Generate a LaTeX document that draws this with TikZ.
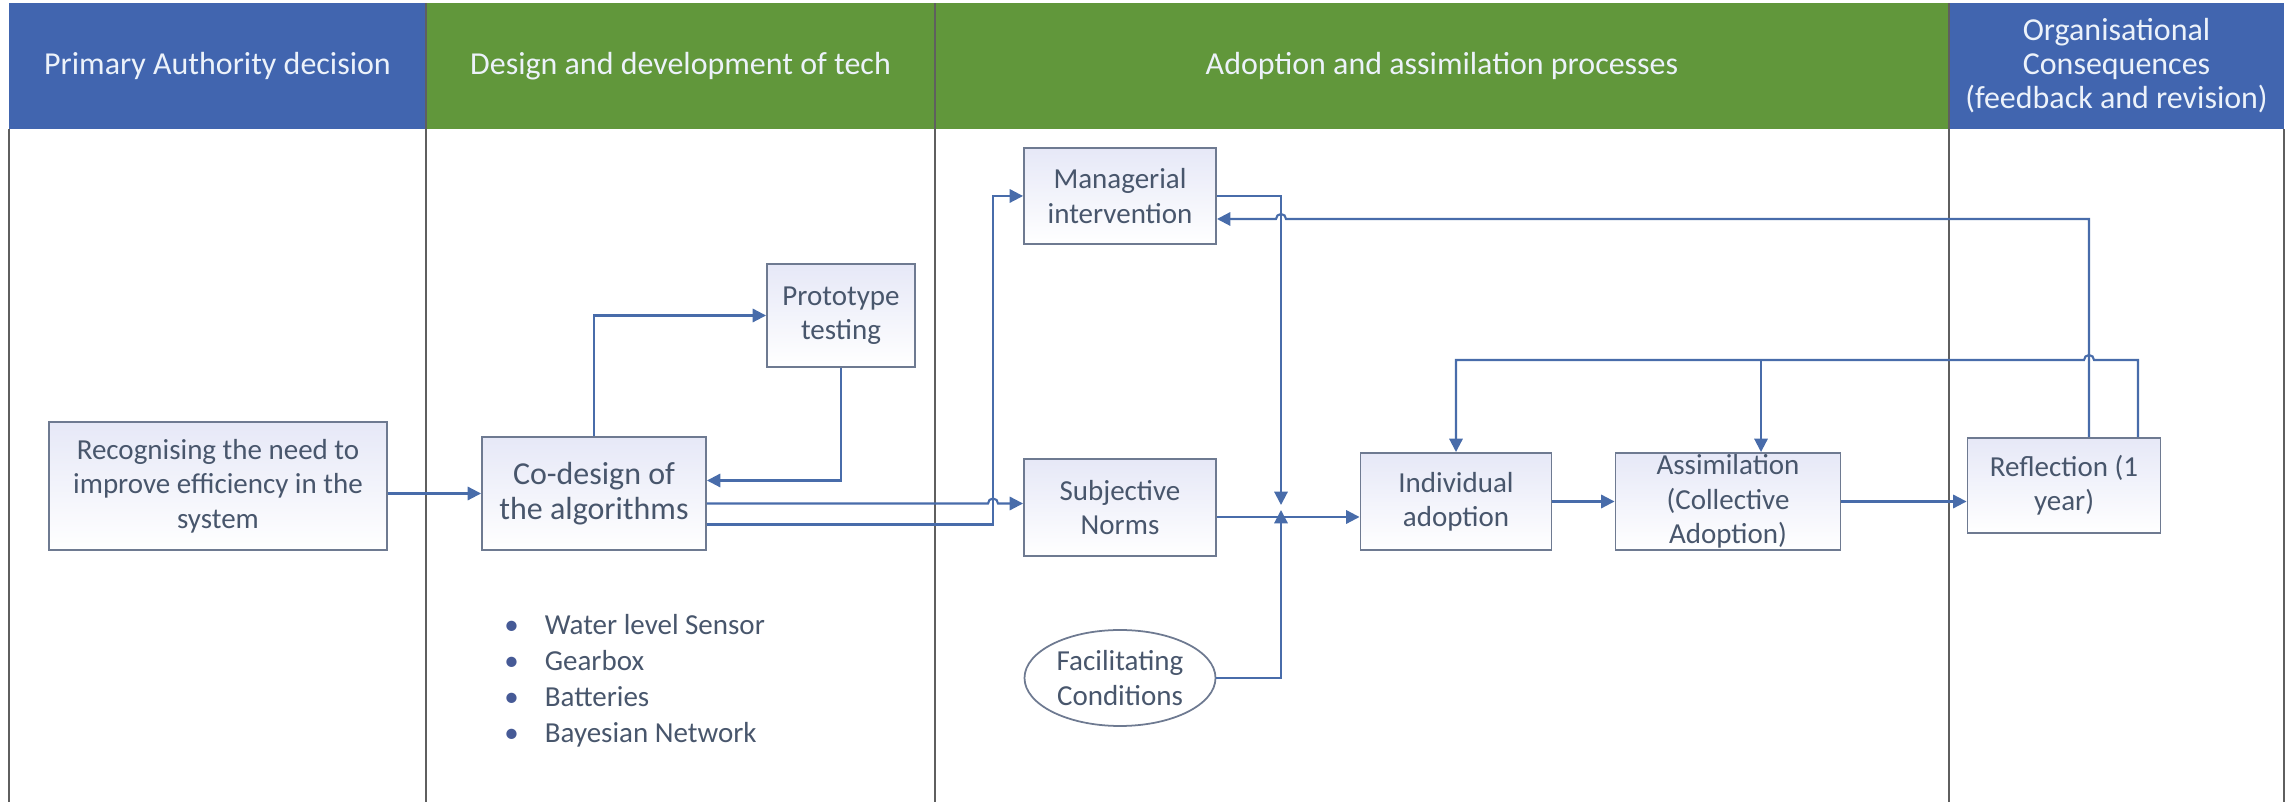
\documentclass[tikz,border=0pt]{standalone}
\usepackage{fontspec}
\setmainfont{Carlito}
\usetikzlibrary{arrows.meta, calc, positioning, shapes.geometric}
\definecolor{hdrBlue}{RGB}{65,101,175}
\definecolor{hdrGreen}{RGB}{97,151,59}
\definecolor{hdrText}{RGB}{236,242,250}
\definecolor{laneLine}{RGB}{95,95,95}
\definecolor{boxLine}{RGB}{110,122,145}
\definecolor{boxTint}{RGB}{230,232,247}
\definecolor{flowC}{RGB}{72,108,170}
\definecolor{txtC}{RGB}{72,86,108}
\definecolor{dotC}{RGB}{70,90,150}
\tikzset{
    procB/.style 2 args={
        draw=boxLine, line width=0.55pt, rectangle, inner sep=0pt,
        shading=axis, shading angle=135, top color=boxTint, bottom color=white,
        minimum width=#1, minimum height=#2, align=center
    },
    condE/.style 2 args={
        draw=boxLine, line width=0.5pt, ellipse, inner sep=0pt, fill=white,
        minimum width=#1, minimum height=#2, align=center
    },
    headB/.style={
        fill=#1, draw=none, text=hdrText, inner sep=0pt,
        minimum height=12.6mm, align=center
    },
    laneL/.style={draw=laneLine, line width=0.5pt},
    flowA/.style={
        draw=flowC, line width=0.6pt, -{Triangle[length=3.8pt, width=3.8pt]}
    }
}
\begin{document}
\begin{tikzpicture}[x=0.1mm, y=0.1mm]
    \def \nf {\fontsize{8.25}{9.8}\selectfont}
    \def \hf {\fontsize{9.1}{9.7}\selectfont}
    \tikzstyle{every node}=[text=txtC, font=\nf];
    \useasboundingbox (0,0) rectangle (2290,802);
    % swimlane headers
    \node[headB=hdrBlue, minimum width=41.7mm, font=\hf] (hA) at (217.5,736) {Primary Authority decision};
    \node[headB=hdrGreen, minimum width=50.9mm, font=\hf] (hB) at (680.5,736) {Design and development of tech};
    \node[headB=hdrGreen, minimum width=101.4mm, font=\hf] (hC) at (1442,736) {Adoption and assimilation processes};
    \node[headB=hdrBlue, minimum width=33.5mm, font=\hf] (hD) at (2116.5,736) {Organisational\\Consequences\\(feedback and revision)};
    % lane borders
    \foreach \x in {9,2284}{
        \draw[laneL] (\x,0) -- (\x,673);}
    \foreach \x in {426,935,1949}{
        \draw[laneL] (\x,0) -- (\x,799);}

    \node[procB={33.8mm}{12.8mm}] (recog) at (218,316) {Recognising the need to\\improve efficiency in the\\system};
    \node[procB={22.4mm}{11.3mm}, font=\fontsize{9.1}{10}\selectfont] (codesign) at (594,308.5) {Co-design of\\the algorithms};
    \node[procB={14.8mm}{10.3mm}] (proto) at (841,486.5) {Prototype\\testing};
    \node[procB={19.2mm}{9.6mm}] (manag) at (1120,606) {Managerial\\intervention};
    \node[procB={19.2mm}{9.7mm}] (subj) at (1120,294.5) {Subjective\\Norms};
    \node[condE={19.1mm}{9.6mm}] (facil) at (1120,124) {Facilitating\\Conditions};
    \node[procB={19.1mm}{9.7mm}] (indiv) at (1456,300.5) {Individual\\adoption};
    \node[procB={22.5mm}{9.7mm}] (assim) at (1728,300.5) {Assimilation\\(Collective\\Adoption)};
    \node[procB={19.3mm}{9.5mm}] (refl) at (2064,316.5) {Reflection (1\\year)};
    \node[anchor=west, align=left, font=\fontsize{8.25}{10.2}\selectfont] (parts) at (492,121)
        {\textcolor{dotC}{\textbullet}\hspace{2.6mm}Water level Sensor\\
         \textcolor{dotC}{\textbullet}\hspace{2.6mm}Gearbox\\
         \textcolor{dotC}{\textbullet}\hspace{2.6mm}Batteries\\
         \textcolor{dotC}{\textbullet}\hspace{2.6mm}Bayesian Network};

    \coordinate (bus) at (993,0);
    \coordinate (junc) at (1281,285);
    \coordinate (up1) at (2089,583);
    \coordinate (up2) at (2138,442);
    \coordinate (drop) at ($(assim.north)+(33,0)$);
    \coordinate (c1) at ($(codesign.east)+(0,-10)$);
    \coordinate (c2) at ($(codesign.east)+(0,-31)$);

    \draw[flowA] (recog.east |- codesign.west) -- (codesign.west);
    \draw[flowA] (codesign.north) |- (proto.west);
    \draw[flowA] (proto.south) |- ($(codesign.east)+(0,13)$);
    \draw[flowA] (c1) -- ($(bus |- c1)+(-5,0)$) arc[start angle=180, end angle=0, radius=0.5mm] -- (subj.west |- c1);
    \draw[flowA] (c2) -| (bus |- manag.west) -- (manag.west);
    \draw[flowA] (manag.east) -| ($(junc)+(0,12)$);
    \draw[flowA] (facil.east) -| ($(junc)+(0,7)$);
    \draw[flowA] (subj.east |- junc) -- (indiv.west |- junc);
    \draw[flowA] (indiv.east) -- (assim.west);
    \draw[flowA] (assim.east) -- (assim.east -| refl.west);
    % feedback after one year
    \draw[flowA] (refl.north -| up1) -- (up1) -- ($(up1 -| junc)+(5,0)$) arc[start angle=0, end angle=180, radius=0.5mm] -- (manag.east |- up1);
    \draw[flowA] (refl.north -| up2) -- (up2) -- ($(up2 -| up1)+(5,0)$) arc[start angle=0, end angle=180, radius=0.5mm] -- (indiv.north |- up2) -- (indiv.north);
    \draw[flowA] (drop |- up2) -- (drop);
\end{tikzpicture}
\end{document}
